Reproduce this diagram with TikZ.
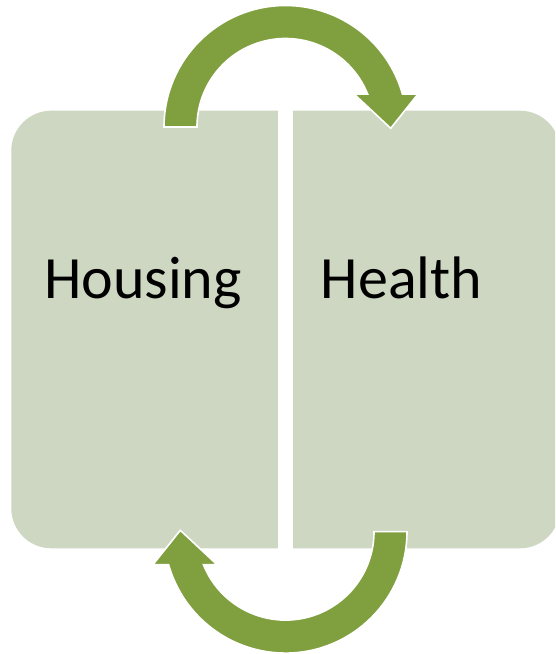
\documentclass[tikz,border=0pt]{standalone}
\usepackage{fontspec}
\setmainfont{Carlito}
\definecolor{boxfill}{HTML}{CDD7C1}
\definecolor{arrowgreen}{HTML}{80A040}
\begin{document}
\begin{tikzpicture}[x=1pt,y=1pt,
  panel/.style={fill=boxfill},
  cyclearrow/.style={fill=arrowgreen,draw=white,line width=1.6pt,line join=miter},
  label/.style={anchor=base,font=\fontsize{60}{72}\selectfont,text=black,inner sep=0pt}]
\useasboundingbox (0,0) rectangle (555,654);
\clip (0,0) rectangle (555,654);
% panels
\fill[panel,rounded corners=40pt] (11.3,105.7) rectangle (560,543.3);
\fill[white] (278,100) rectangle (292.6,550);
% texts
\node[label] (housing) at (143,355) {Housing};
\node[label] (health) at (401.5,355) {Health};
% top arrow (Housing -> Health)
\path[cyclearrow] (164,527) arc[start angle=180,end angle=15.76,radius=121.5]
  -- (418,560) -- (390.7,525.7) -- (354,560) -- (367.6,560)
  arc[start angle=21.9,end angle=180,radius=88.5] -- cycle;
% bottom arrow (Health -> Housing)
\begin{scope}[rotate around={180:(285.5,324.7)}]
\path[cyclearrow] (164,527) arc[start angle=180,end angle=15.76,radius=121.5]
  -- (418,560) -- (390.7,525.7) -- (354,560) -- (367.6,560)
  arc[start angle=21.9,end angle=180,radius=88.5] -- cycle;
\end{scope}
\end{tikzpicture}
\end{document}
